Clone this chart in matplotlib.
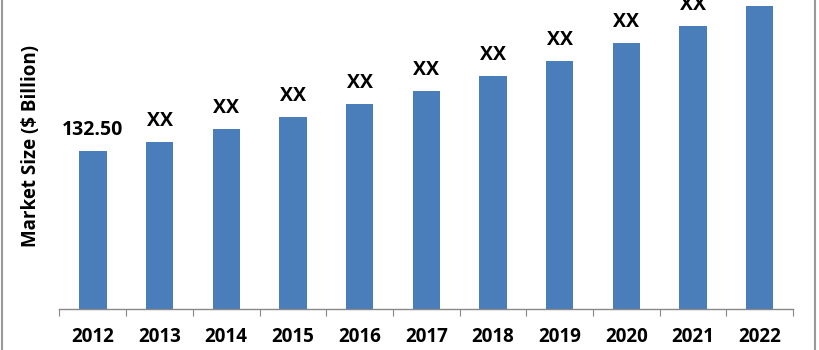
import matplotlib
matplotlib.use("Agg")
import matplotlib.pyplot as plt
from matplotlib.lines import Line2D

# data (only 2012 is labelled with a number)
years = ["2012", "2013", "2014", "2015", "2016", "2017", "2018", "2019", "2020", "2021", "2022"]
market_size = [132.5, 140.7, 151.0, 161.4, 172.4, 183.3, 195.9, 208.5, 223.3, 238.2, 254.4]
bar_labels = ["132.50", "XX", "XX", "XX", "XX", "XX", "XX", "XX", "XX", "XX", "XX"]

plt.rcParams['font.family'] = ['Open Sans', 'DejaVu Sans']

fig = plt.figure(figsize=(8.2, 3.5), dpi=100)
ax = fig.add_axes([59.5/820, 41/350, (793-59.5)/820, 309/350])

x = range(len(years))
ax.bar(x, market_size, width=0.41, color='#4a7ebb')

for i, (v, lab) in enumerate(zip(market_size, bar_labels)):
    ax.annotate(lab, (i, v), xytext=(0, 11.5), textcoords='offset points',
                ha='center', va='baseline', fontsize=14, fontweight='bold',
                color='black', annotation_clip=False)

ax.set_xlim(-0.5, len(years) - 0.5)
ax.set_ylim(0, 259.8)
ax.set_xticks([i + 0.5 for i in range(-1, len(years))], minor=False)
ax.set_xticks(list(x), minor=True)
ax.set_xticklabels([], minor=False)
ax.set_xticklabels(years, minor=True, fontsize=13.5, fontweight='bold')
ax.tick_params(axis='x', which='major', length=5, color='#888888', direction='out')
ax.tick_params(axis='x', which='minor', length=0, pad=13)
ax.set_yticks([])

for s in ['top', 'right', 'left']:
    ax.spines[s].set_visible(False)
ax.spines['bottom'].set_color('#888888')
ax.spines['bottom'].set_linewidth(1)

fig.text(31/820, 1 - 146/350, "Market Size ($ Billion)", rotation=90,
         ha='center', va='center', fontsize=13.5, fontweight='bold')

# border of the picture
fig.add_artist(Line2D([2/820, 2/820], [0, 1], color='#999999', lw=1.5, transform=fig.transFigure))
fig.add_artist(Line2D([815/820, 815/820], [0, 1], color='#999999', lw=1.5, transform=fig.transFigure))

plt.savefig('out.png', dpi=100)
